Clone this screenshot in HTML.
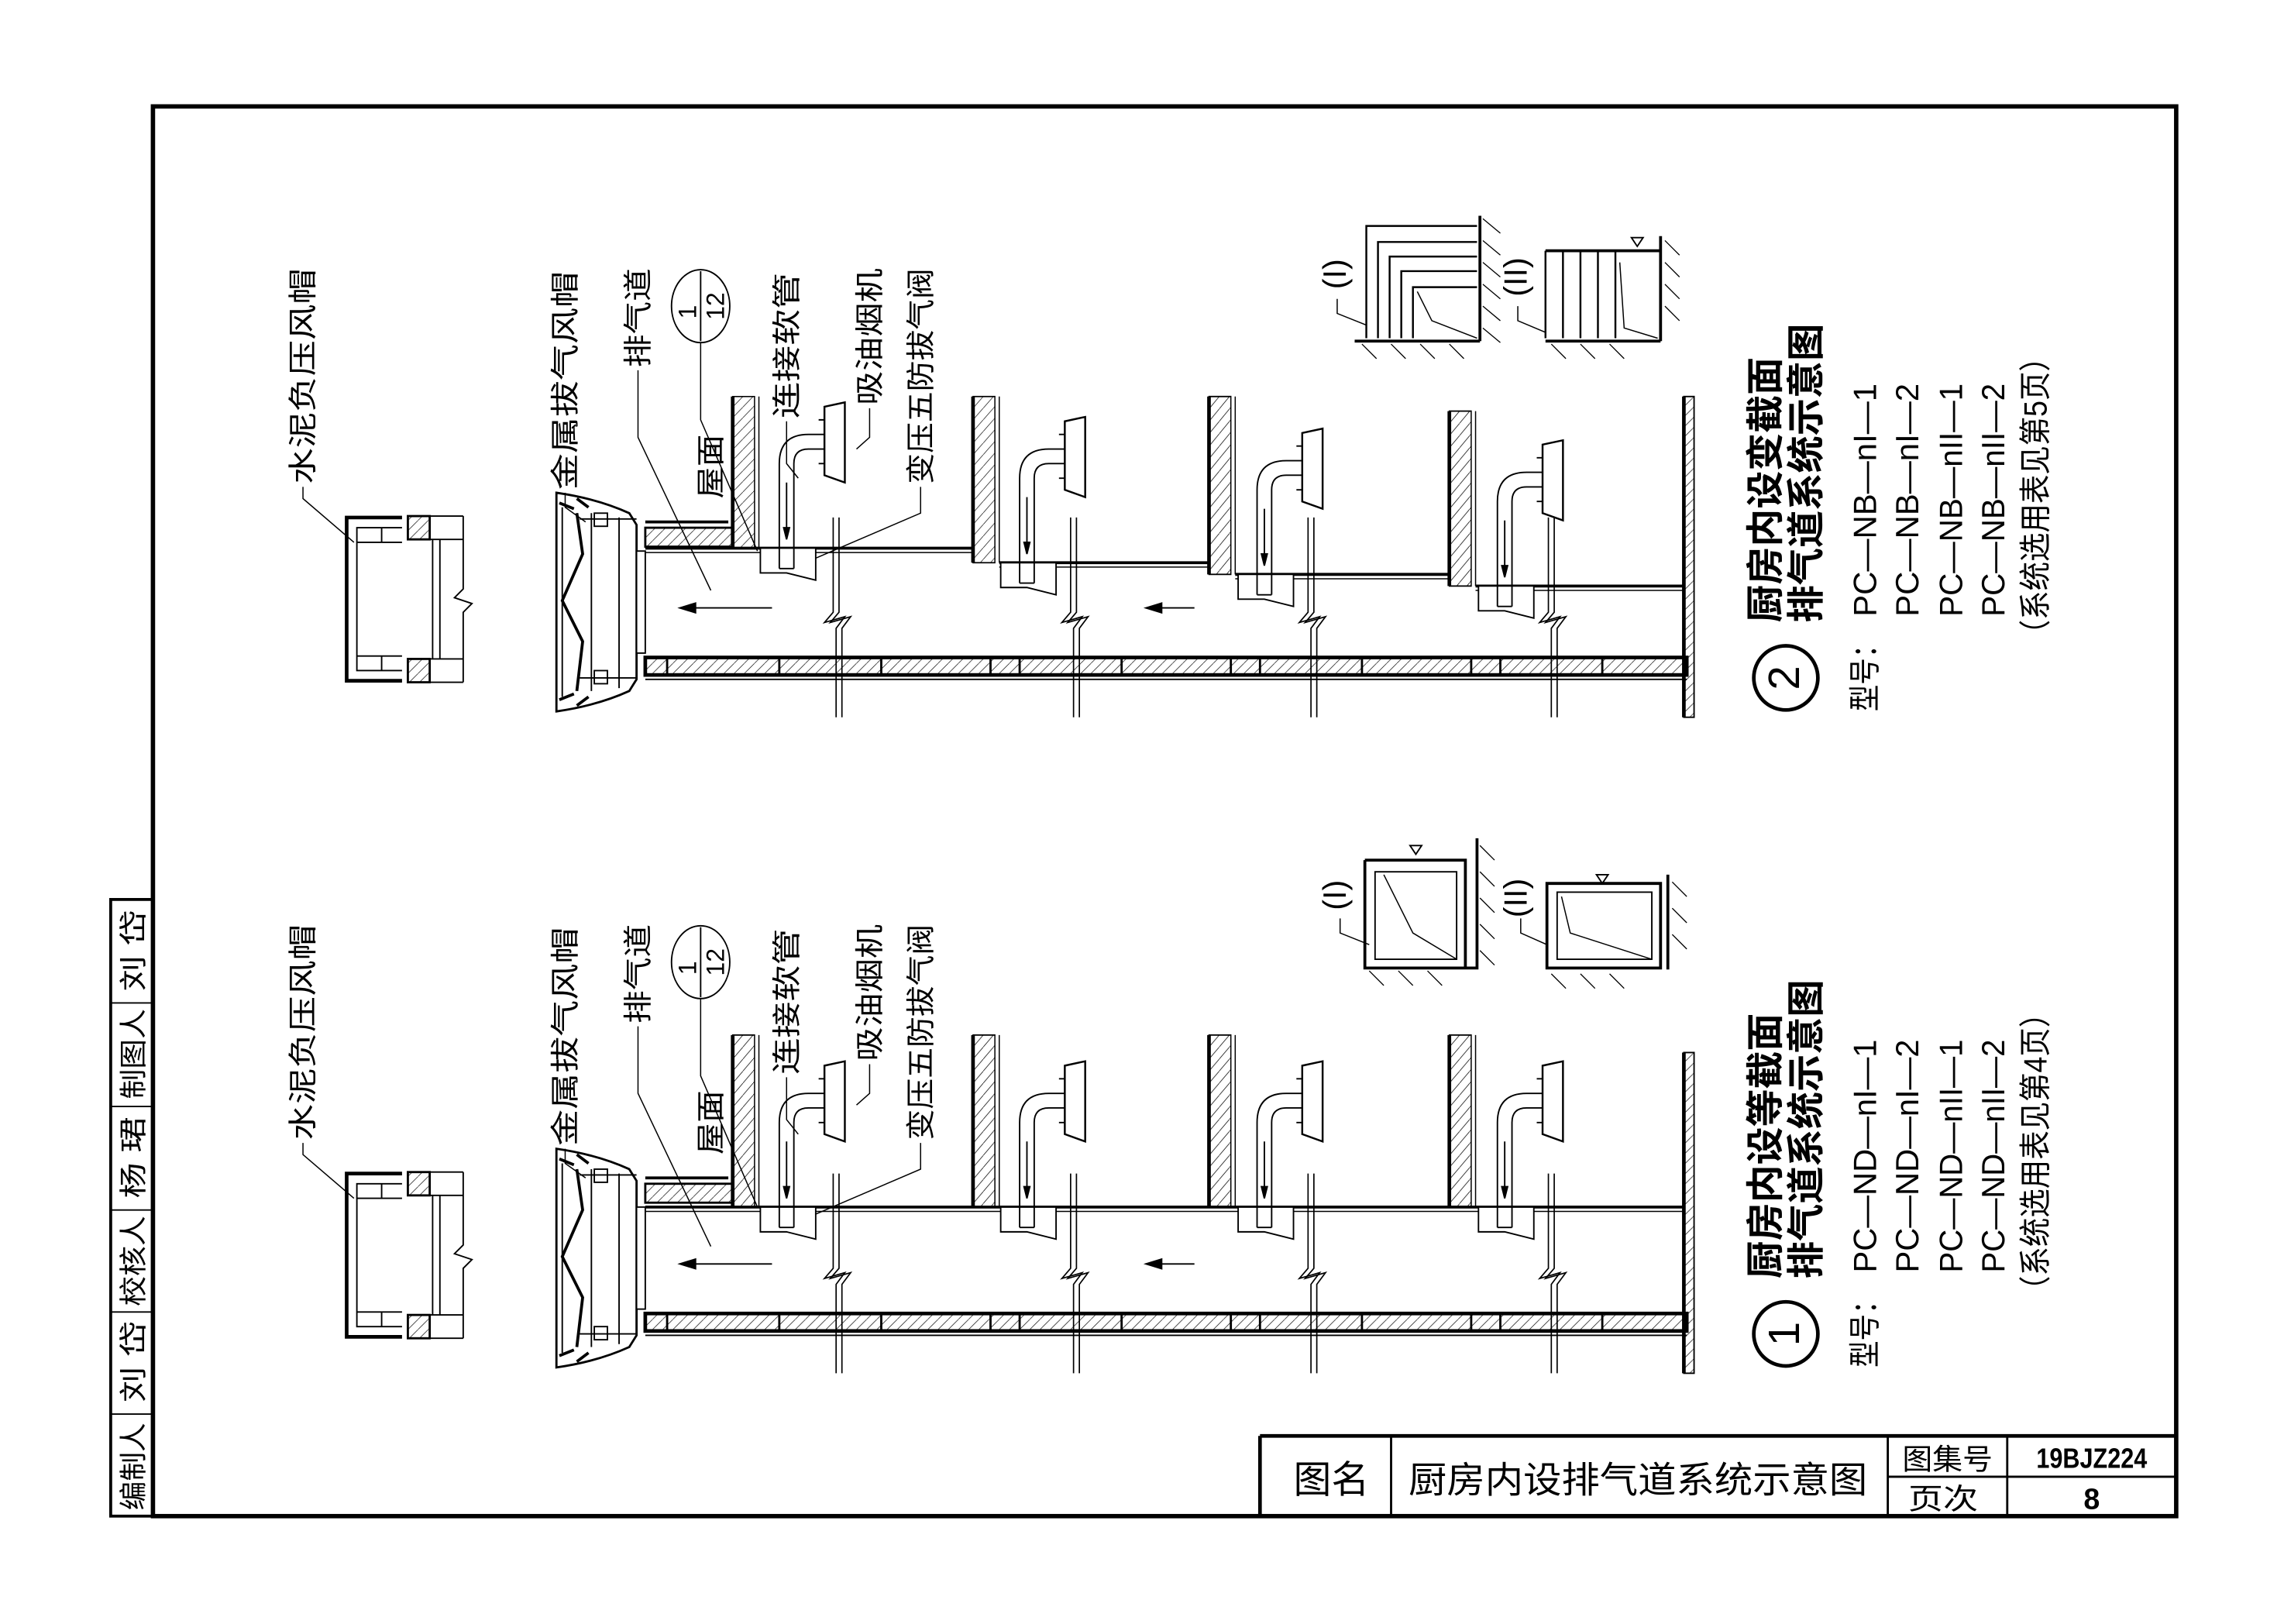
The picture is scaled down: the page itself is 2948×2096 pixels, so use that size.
<!DOCTYPE html>
<html><head><meta charset="utf-8">
<style>
html,body{margin:0;padding:0;background:#fff;}
svg{display:block;}
text{font-family:"Liberation Sans","Noto Sans CJK SC",sans-serif;fill:#000;}
</style></head>
<body>
<svg width="2948" height="2096" viewBox="0 0 1568 1114" preserveAspectRatio="none" xmlns="http://www.w3.org/2000/svg">
<defs>
<pattern id="h" patternUnits="userSpaceOnUse" width="7" height="7"><path d="M0,7 L7,0" stroke="#000" stroke-width="0.35"/></pattern>
<g id="unit" fill="none" stroke="#000" stroke-width="1">
  <polygon points="22,0 60,0 60,22 40,17 22,17" fill="#fff"/>
  <path d="M35,14 V-58 Q35,-78 55,-78 H66" />
  <path d="M45,14 V-58 Q45,-68 55,-68 H66" />
  <path d="M35,14 H45"/>
  <polygon points="66,-97 80,-100 80,-45 66,-50" fill="#fff" stroke-width="1.3"/>
  <path d="M62,-88 H66 M62,-58 H66"/>
  <path d="M40,-45 V-12"/>
  <polygon points="38,-14 42,-14 40,-6" fill="#000"/>
</g>
<g id="dwall">
  <rect x="0" y="0" width="15" height="100" fill="url(#h)" stroke="#000" stroke-width="0.8"/>
  <line x1="0" y1="0" x2="0" y2="100" stroke="#000" stroke-width="2.5"/>
  <line x1="18" y1="0" x2="18" y2="100" stroke="#000" stroke-width="0.8"/>
</g>
<g id="vpipe" fill="none" stroke="#000" stroke-width="0.9">
  <path d="M0,0 V65 L-6,72 L8,68 L2,76 V137"/>
  <path d="M4,0 V65 L-2,72 L12,68 L6,76 V137" />
</g>
<g id="common">
  <g fill="none" stroke="#000">
    <path d="M276,355 H238 V467 H276" stroke-width="2.5"/>
    <path d="M276,362 H245 V460 H276" stroke-width="1"/>
    <path d="M245,372 H276 M245,450 H276 M262,362 V372 M262,450 V460" stroke-width="1"/>
    <rect x="280" y="354" width="15" height="16" fill="url(#h)" stroke-width="1.5"/>
    <rect x="280" y="452" width="15" height="16" fill="url(#h)" stroke-width="1.5"/>
    <path d="M295,354 H318 M295,370 H318 M295,452 H318 M295,468 H318" stroke-width="1"/>
    <path d="M297,370 V452 M302,370 V452" stroke-width="1"/>
    <path d="M318,354 V404 L312,410 L324,414 L318,420 V468" stroke-width="1"/>
  </g>
  <g fill="none" stroke="#000">
    <path d="M382,338 Q410,342 432,352 L437,360 V466 L432,474 Q410,484 382,488 Z" stroke-width="1.5"/>
    <path d="M386,348 V478" stroke-width="1"/>
    <path d="M396,352 L400,380 L386,412 L400,440 L396,474" stroke-width="2"/>
    <path d="M406,352 V474 M425,355 V472" stroke-width="1"/>
    <rect x="408" y="352" width="9" height="9" fill="#fff" stroke-width="1"/>
    <rect x="408" y="460" width="9" height="9" fill="#fff" stroke-width="1"/>
    <path d="M398,356 H437 M398,465 H437" stroke-width="1"/>
    <path d="M384,345 L394,349 M384,480 L394,476 M396,342 L404,348 M396,484 L404,478" stroke-width="2"/>
    <rect x="437" y="378" width="6" height="70" fill="#fff" stroke-width="1"/>
  </g>
  <rect x="443" y="362" width="60" height="13" fill="url(#h)" stroke="#000" stroke-width="1.5"/>
  <path d="M443,358 H500" stroke="#000" stroke-width="2"/>
  <rect x="443" y="451" width="715" height="12" fill="url(#h)" stroke="#000" stroke-width="2.5"/>
  <path d="M443,466 H1158" stroke="#000" stroke-width="1"/>
  <path d="M458,451 V463 M535,451 V463 M605,451 V463 M680,451 V463 M700,451 V463 M770,451 V463 M845,451 V463 M865,451 V463 M935,451 V463 M1010,451 V463 M1030,451 V463 M1100,451 V463" stroke="#000" stroke-width="1.5"/>
  <rect x="1156" y="272" width="7" height="220" fill="url(#h)" stroke="#000" stroke-width="1"/>
  <line x1="1156" y1="272" x2="1156" y2="492" stroke="#000" stroke-width="2.5"/>
  <use href="#vpipe" x="572" y="355"/>
  <use href="#vpipe" x="735" y="355"/>
  <use href="#vpipe" x="898" y="355"/>
  <use href="#vpipe" x="1063" y="355"/>
  <path d="M530,417 H475" stroke="#000" stroke-width="1"/>
  <polygon points="465,417 478,413 478,421" fill="#000"/>
  <path d="M820,417 H795" stroke="#000" stroke-width="1"/>
  <polygon points="785,417 798,413 798,421" fill="#000"/>
  <g font-size="20">
    <text transform="translate(215,332) rotate(-90)" textLength="148" lengthAdjust="spacingAndGlyphs">水泥负压风帽</text>
    <text transform="translate(395,336) rotate(-90)" textLength="150" lengthAdjust="spacingAndGlyphs">金属拔气风帽</text>
    <text transform="translate(445,252) rotate(-90)" textLength="68" lengthAdjust="spacingAndGlyphs">排气道</text>
    <text transform="translate(547,287) rotate(-90)" textLength="100" lengthAdjust="spacingAndGlyphs">连接软管</text>
    <text transform="translate(604,278) rotate(-90)" textLength="94" lengthAdjust="spacingAndGlyphs">吸油烟机</text>
    <text transform="translate(639,332) rotate(-90)" textLength="148" lengthAdjust="spacingAndGlyphs">变压五防拔气阀</text>
    <text transform="translate(495,342) rotate(-90)" textLength="44" lengthAdjust="spacingAndGlyphs">屋面</text>
  </g>
  <ellipse cx="481" cy="210" rx="20" ry="25" fill="none" stroke="#000" stroke-width="1"/>
  <line x1="481" y1="186" x2="481" y2="234" stroke="#000" stroke-width="1"/>
  <text transform="translate(478,214) rotate(-90)" font-size="17" text-anchor="middle">1</text>
  <text transform="translate(497,210) rotate(-90)" font-size="17" text-anchor="middle">12</text>
  <g fill="none" stroke="#000" stroke-width="0.8">
    <path d="M208,334 V342 L243,372"/>
    <path d="M388,338 V348 L402,358"/>
    <path d="M438,254 V300 L488,405"/>
    <path d="M481,235 V288 L520,378"/>
    <path d="M540,289 V318 L548,328"/>
    <path d="M597,280 V300 L588,308"/>
    <path d="M632,334 V352 L548,388"/>
  </g>
</g>
</defs>

<rect x="105" y="73" width="1389" height="967" fill="none" stroke="#000" stroke-width="3"/>
<g stroke="#000" fill="none">
  <rect x="76" y="617" width="29" height="423" stroke-width="2"/>
  <path d="M76,688 H105 M76,759 H105 M76,830 H105 M76,900 H105 M76,970 H105" stroke-width="1"/>
</g>
<g font-size="19">
  <text transform="translate(98,1036) rotate(-90)" textLength="60" lengthAdjust="spacingAndGlyphs">编制人</text>
  <text transform="translate(98,962) rotate(-90)" textLength="56" lengthAdjust="spacingAndGlyphs">刘 岱</text>
  <text transform="translate(98,896) rotate(-90)" textLength="62" lengthAdjust="spacingAndGlyphs">校核人</text>
  <text transform="translate(98,822) rotate(-90)" textLength="56" lengthAdjust="spacingAndGlyphs">杨 珺</text>
  <text transform="translate(98,754) rotate(-90)" textLength="62" lengthAdjust="spacingAndGlyphs">制图人</text>
  <text transform="translate(98,680) rotate(-90)" textLength="56" lengthAdjust="spacingAndGlyphs">刘 岱</text>
</g>
<g stroke="#000" fill="none">
  <path d="M865,985 H1494 M865,985 V1040" stroke-width="2.5"/>
  <path d="M955,985 V1040 M1296,985 V1040 M1378,985 V1040" stroke-width="1.5"/>
  <path d="M1296,1013 H1494" stroke-width="1.5"/>
</g>
<text x="888" y="1024" font-size="26" textLength="52" lengthAdjust="spacingAndGlyphs">图名</text>
<text x="967" y="1024" font-size="25" textLength="315" lengthAdjust="spacingAndGlyphs">厨房内设排气道系统示意图</text>
<text x="1306" y="1008" font-size="20" textLength="62" lengthAdjust="spacingAndGlyphs">图集号</text>
<text x="1310" y="1035" font-size="20" textLength="48" lengthAdjust="spacingAndGlyphs">页次</text>
<text x="1436" y="1007" font-size="19" font-weight="bold" text-anchor="middle" textLength="76" lengthAdjust="spacingAndGlyphs">19BJZ224</text>
<text x="1436" y="1035" font-size="20" font-weight="bold" text-anchor="middle">8</text>

<use href="#common"/>
<g fill="none" stroke="#000">
  <path d="M443,376 H668 M686,386 H830 M848,394 H995 M1013,402 H1156" stroke-width="2"/>
  <path d="M443,379 H668 M686,389 H830 M848,397 H995 M1013,405 H1156" stroke-width="0.8"/>
</g>
<use href="#dwall" transform="translate(503,272) scale(1,1.04)"/>
<use href="#dwall" transform="translate(668,272) scale(1,1.14)"/>
<use href="#dwall" transform="translate(830,272) scale(1,1.22)"/>
<use href="#dwall" transform="translate(995,282) scale(1,1.20)"/>
<use href="#unit" x="500" y="376"/>
<use href="#unit" x="665" y="386"/>
<use href="#unit" x="828" y="394"/>
<use href="#unit" x="993" y="402"/>
<g fill="none" stroke="#000" stroke-width="1.3">
  <path d="M1016,148 V234 M930,234 H1016" stroke-width="2"/>
  <path d="M1018,150 L1030,160 M1018,165 L1030,175 M1018,180 L1030,190 M1018,195 L1030,205 M1018,210 L1030,220 M1018,225 L1030,235 M935,236 L945,246 M955,236 L965,246 M975,236 L985,246 M995,236 L1005,246" stroke-width="0.7"/>
  <path d="M938,232 V155 H1014"/>
  <path d="M946,232 V166 H1014"/>
  <path d="M954,232 V176 H1014"/>
  <path d="M962,232 V186 H1014"/>
  <path d="M970,232 V197 H1014"/>
  <path d="M973,200 L983,220 L1014,232" stroke-width="0.8"/>
  <path d="M918,205 V215 L938,223" stroke-width="0.8"/>
  <path d="M1061,234 H1140 M1140,162 V234 M1061,172 H1140" stroke-width="2"/>
  <path d="M1061,172 V232 M1073,172 V232 M1085,172 V232 M1097,172 V232 M1109,172 V232"/>
  <path d="M1112,180 L1115,225 L1138,232" stroke-width="0.8"/>
  <path d="M1143,165 L1153,175 M1143,180 L1153,190 M1143,195 L1153,205 M1143,210 L1153,220 M1065,236 L1075,246 M1085,236 L1095,246 M1105,236 L1115,246" stroke-width="0.7"/>
  <path d="M1042,210 V220 L1061,228" stroke-width="0.8"/>
</g>
<polygon points="1120,163 1128,163 1124,169" fill="none" stroke="#000"/>
<text transform="translate(924,188) rotate(-90)" font-size="22" text-anchor="middle">(I)</text>
<text transform="translate(1048,190) rotate(-90)" font-size="22" text-anchor="middle">(II)</text>
<circle cx="1226" cy="465" r="22" fill="none" stroke="#000" stroke-width="2.5"/>
<text transform="translate(1235,465) rotate(-90)" font-size="30" text-anchor="middle">2</text>
<g font-weight="bold" font-size="26">
  <text transform="translate(1221,427) rotate(-90)" textLength="182" lengthAdjust="spacingAndGlyphs">厨房内设变截面</text>
  <text transform="translate(1249,427) rotate(-90)" textLength="205" lengthAdjust="spacingAndGlyphs">排气道系统示意图</text>
</g>
<g font-size="22">
  <text transform="translate(1288,488) rotate(-90)" textLength="55" lengthAdjust="spacingAndGlyphs">型号：</text>
  <text transform="translate(1288,423) rotate(-90)" textLength="160" lengthAdjust="spacingAndGlyphs">PC—NB—nI—1</text>
  <text transform="translate(1317,423) rotate(-90)" textLength="160" lengthAdjust="spacingAndGlyphs">PC—NB—nI—2</text>
  <text transform="translate(1347,423) rotate(-90)" textLength="160" lengthAdjust="spacingAndGlyphs">PC—NB—nII—1</text>
  <text transform="translate(1376,423) rotate(-90)" textLength="160" lengthAdjust="spacingAndGlyphs">PC—NB—nII—2</text>
  <text transform="translate(1405,445) rotate(-90)" textLength="210" lengthAdjust="spacingAndGlyphs">（系统选用表见第5页）</text>
</g>

<g transform="translate(0,450)">
  <use href="#common"/>
  <path d="M443,378 H1156" stroke="#000" stroke-width="2" fill="none"/>
  <path d="M443,381 H1156" stroke="#000" stroke-width="0.8" fill="none"/>
  <use href="#dwall" transform="translate(503,260) scale(1,1.18)"/>
  <use href="#dwall" transform="translate(668,260) scale(1,1.18)"/>
  <use href="#dwall" transform="translate(830,260) scale(1,1.18)"/>
  <use href="#dwall" transform="translate(995,260) scale(1,1.18)"/>
  <use href="#unit" x="500" y="378"/>
  <use href="#unit" x="665" y="378"/>
  <use href="#unit" x="828" y="378"/>
  <use href="#unit" x="993" y="378"/>
</g>
<g fill="none" stroke="#000" stroke-width="2">
  <path d="M937,590 V664 H1014 V575"/>
  <path d="M937,590 H1006 V664"/>
  <path d="M944,598 H1000 V658 H944 Z" stroke-width="1"/>
  <path d="M950,600 L970,640 L1000,658" stroke-width="0.8"/>
  <path d="M1016,580 L1026,590 M1016,598 L1026,608 M1016,616 L1026,626 M1016,634 L1026,644 M1016,652 L1026,662 M940,666 L950,676 M960,666 L970,676 M980,666 L990,676" stroke-width="0.7"/>
  <path d="M920,630 V640 L940,648" stroke-width="0.8"/>
  <path d="M1062,606 H1140 V664 H1062 Z"/>
  <path d="M1069,612 H1134 V658 H1069 Z" stroke-width="1"/>
  <path d="M1145,600 V665" />
  <path d="M1072,615 L1078,640 L1134,658" stroke-width="0.8"/>
  <path d="M1148,605 L1158,615 M1148,623 L1158,633 M1148,641 L1158,651 M1065,668 L1075,678 M1085,668 L1095,678 M1105,668 L1115,678" stroke-width="0.7"/>
  <path d="M1044,630 V640 L1062,648" stroke-width="0.8"/>
</g>
<polygon points="968,580 976,580 972,586" fill="none" stroke="#000"/>
<polygon points="1096,600 1104,600 1100,606" fill="none" stroke="#000"/>
<text transform="translate(924,614) rotate(-90)" font-size="22" text-anchor="middle">(I)</text>
<text transform="translate(1048,616) rotate(-90)" font-size="22" text-anchor="middle">(II)</text>
<circle cx="1226" cy="915" r="22" fill="none" stroke="#000" stroke-width="2.5"/>
<text transform="translate(1235,915) rotate(-90)" font-size="30" text-anchor="middle">1</text>
<g font-weight="bold" font-size="26">
  <text transform="translate(1221,877) rotate(-90)" textLength="182" lengthAdjust="spacingAndGlyphs">厨房内设等截面</text>
  <text transform="translate(1249,877) rotate(-90)" textLength="205" lengthAdjust="spacingAndGlyphs">排气道系统示意图</text>
</g>
<g font-size="22">
  <text transform="translate(1288,938) rotate(-90)" textLength="55" lengthAdjust="spacingAndGlyphs">型号：</text>
  <text transform="translate(1288,873) rotate(-90)" textLength="160" lengthAdjust="spacingAndGlyphs">PC—ND—nI—1</text>
  <text transform="translate(1317,873) rotate(-90)" textLength="160" lengthAdjust="spacingAndGlyphs">PC—ND—nI—2</text>
  <text transform="translate(1347,873) rotate(-90)" textLength="160" lengthAdjust="spacingAndGlyphs">PC—ND—nII—1</text>
  <text transform="translate(1376,873) rotate(-90)" textLength="160" lengthAdjust="spacingAndGlyphs">PC—ND—nII—2</text>
  <text transform="translate(1405,895) rotate(-90)" textLength="210" lengthAdjust="spacingAndGlyphs">（系统选用表见第4页）</text>
</g>
</svg>
</body></html>
